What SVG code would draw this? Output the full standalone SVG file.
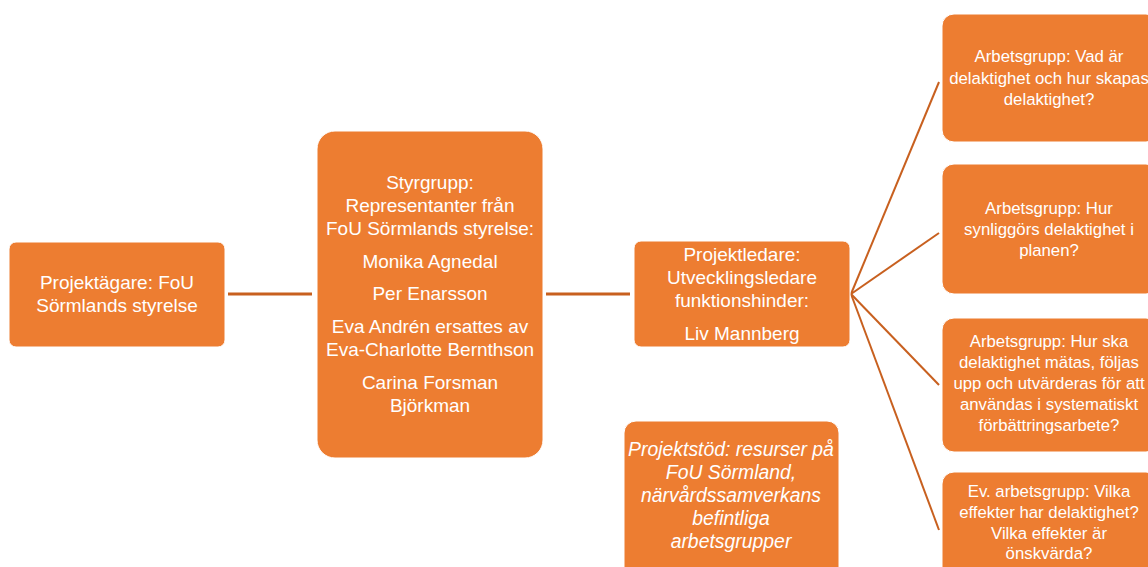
<svg xmlns="http://www.w3.org/2000/svg" width="1148" height="567" viewBox="0 0 1148 567">
<style>
.box{fill:#ED7D31;stroke:#FFFFFF;stroke-width:1}
.t{font-family:"Liberation Sans",Arial,sans-serif;fill:#FFFFFF;text-anchor:middle}
.m{font-size:19px}
.s{font-size:16.8px}
.i{font-style:italic;font-size:19.4px}
.c{stroke:#C8601F;fill:none}
</style>
<rect width="1148" height="567" fill="#FFFFFF"/>
<g id="connectors">
<line class="c" x1="228" y1="294" x2="312" y2="294" stroke-width="3"/>
<line class="c" x1="546" y1="294" x2="630" y2="294" stroke-width="3"/>
<line class="c" x1="851" y1="294" x2="939" y2="82" stroke-width="2"/>
<line class="c" x1="851" y1="294" x2="939" y2="233" stroke-width="2"/>
<line class="c" x1="851" y1="294" x2="939" y2="385" stroke-width="2"/>
<line class="c" x1="851" y1="294" x2="939" y2="530" stroke-width="2"/>
</g>
<g id="n-projektagare">
<rect class="box" x="9" y="242" width="216" height="105" rx="7"/>
<text class="t m"><tspan x="117" y="289">Projektägare: FoU</tspan><tspan x="117" y="312">Sörmlands styrelse</tspan></text>
</g>
<g id="n-styrgrupp">
<rect class="box" x="317" y="131" width="226" height="327" rx="18"/>
<text class="t m"><tspan x="430" y="189">Styrgrupp:</tspan><tspan x="430" y="212">Representanter från</tspan><tspan x="430" y="235">FoU Sörmlands styrelse:</tspan><tspan x="430" y="268">Monika Agnedal</tspan><tspan x="430" y="300">Per Enarsson</tspan><tspan x="430" y="333">Eva Andrén ersattes av</tspan><tspan x="430" y="356">Eva-Charlotte Bernthson</tspan><tspan x="430" y="389">Carina Forsman</tspan><tspan x="430" y="412">Björkman</tspan></text>
</g>
<g id="n-projektledare">
<rect class="box" x="634" y="241" width="216" height="106" rx="7"/>
<text class="t m"><tspan x="742" y="261">Projektledare:</tspan><tspan x="742" y="284">Utvecklingsledare</tspan><tspan x="742" y="307">funktionshinder:</tspan><tspan x="742" y="340">Liv Mannberg</tspan></text>
</g>
<g id="n-projektstod">
<rect class="box" x="624" y="421" width="215" height="160" rx="12"/>
<text class="t i"><tspan x="731" y="456">Projektstöd: resurser på</tspan><tspan x="731" y="479">FoU Sörmland,</tspan><tspan x="731" y="502">närvårdssamverkans</tspan><tspan x="731" y="525">befintliga</tspan><tspan x="731" y="548">arbetsgrupper</tspan></text>
</g>
<g id="n-ag1">
<rect class="box" x="942" y="14" width="216" height="128" rx="12"/>
<text class="t s"><tspan x="1049" y="62">Arbetsgrupp: Vad är</tspan><tspan x="1049" y="84">delaktighet och hur skapas</tspan><tspan x="1049" y="105">delaktighet?</tspan></text>
</g>
<g id="n-ag2">
<rect class="box" x="942" y="164" width="216" height="130" rx="12"/>
<text class="t s"><tspan x="1049" y="214">Arbetsgrupp: Hur</tspan><tspan x="1049" y="235">synliggörs delaktighet i</tspan><tspan x="1049" y="256">planen?</tspan></text>
</g>
<g id="n-ag3">
<rect class="box" x="942" y="318" width="216" height="134" rx="12"/>
<text class="t s"><tspan x="1049" y="347">Arbetsgrupp: Hur ska</tspan><tspan x="1049" y="368">delaktighet mätas, följas</tspan><tspan x="1049" y="389">upp och utvärderas för att</tspan><tspan x="1049" y="410">användas i systematiskt</tspan><tspan x="1049" y="431">förbättringsarbete?</tspan></text>
</g>
<g id="n-ag4">
<rect class="box" x="942" y="472" width="216" height="110" rx="12"/>
<text class="t s"><tspan x="1049" y="497">Ev. arbetsgrupp: Vilka</tspan><tspan x="1049" y="518">effekter har delaktighet?</tspan><tspan x="1049" y="539">Vilka effekter är</tspan><tspan x="1049" y="559">önskvärda?</tspan></text>
</g>
</svg>
